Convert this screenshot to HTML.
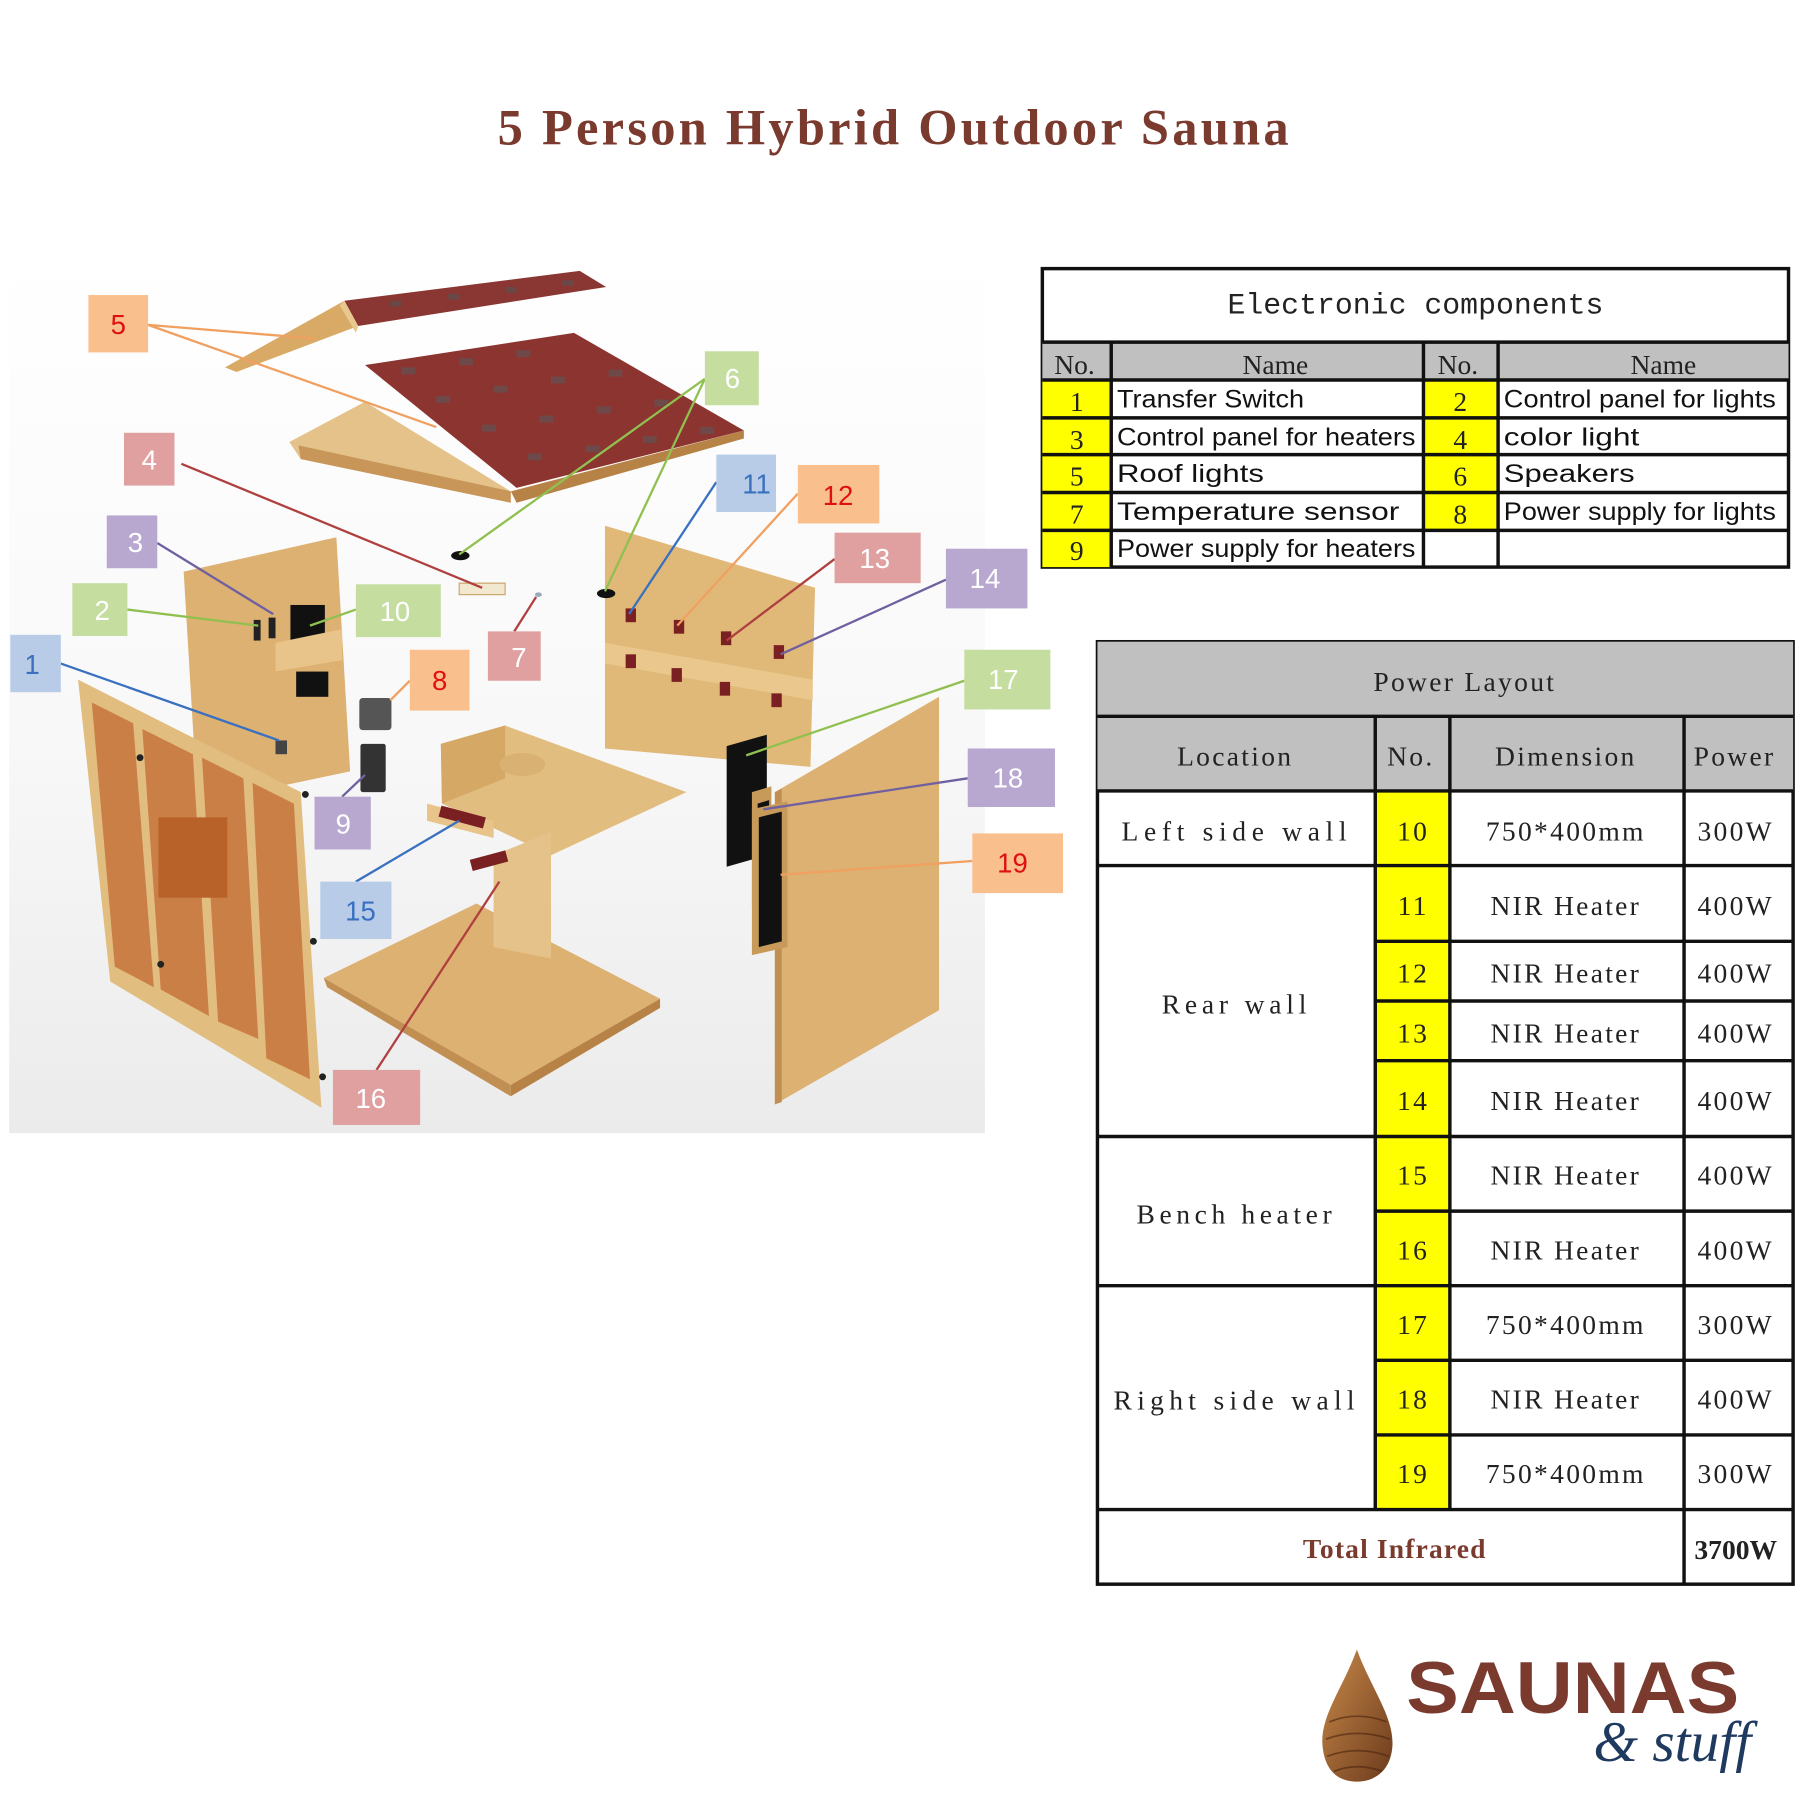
<!DOCTYPE html>
<html><head><meta charset="utf-8"><style>html,body{margin:0;padding:0;background:#fff}svg{display:block}</style></head>
<body>
<svg xmlns="http://www.w3.org/2000/svg" width="1800" height="1800" viewBox="0 0 1568 1568">
<defs>
<linearGradient id="bg" x1="0" y1="0" x2="0" y2="1"><stop offset="0" stop-color="#ffffff"/><stop offset="0.55" stop-color="#f8f8f8"/><stop offset="1" stop-color="#ebebeb"/></linearGradient>
<linearGradient id="drop" x1="0" y1="0" x2="1" y2="1"><stop offset="0" stop-color="#c98a4a"/><stop offset="1" stop-color="#6b3a1c"/></linearGradient>
</defs>
<rect width="1568" height="1568" fill="#fff"/>
<text x="778" y="126" text-anchor="middle" font-family="Liberation Serif, serif" font-size="44" font-weight="bold" fill="#7a3a2e" textLength="689" lengthAdjust="spacing">5 Person Hybrid Outdoor Sauna</text>

<rect x="8" y="225" width="850" height="762" fill="url(#bg)"/>

<!-- roof small -->
<polygon points="300,262 505,236 528,250 312,284" fill="#8a3632"/>
<polygon points="196,320 300,262 312,284 206,324" fill="#d9aa66"/>
<polygon points="300,262 312,284 310,290 296,266" fill="#e8c88e"/>
<g fill="#555" opacity="0.6"><rect x="340" y="262" width="10" height="5"/><rect x="390" y="256" width="10" height="5"/><rect x="440" y="250" width="10" height="5"/><rect x="490" y="244" width="10" height="5"/></g>
<!-- roof big -->
<polygon points="252,385 318,350 445,428 262,400" fill="#e4c28a"/>
<polygon points="318,318 500,290 648,375 450,425" fill="#8c3430"/>
<polygon points="260,388 262,400 445,438 445,428" fill="#c89658"/>
<polygon points="445,428 648,375 648,382 450,438" fill="#b78246"/>
<g fill="#5a5a5a" opacity="0.6">
<rect x="350" y="320" width="12" height="6"/><rect x="400" y="312" width="12" height="6"/><rect x="450" y="305" width="12" height="6"/>
<rect x="380" y="345" width="12" height="6"/><rect x="430" y="336" width="12" height="6"/><rect x="480" y="328" width="12" height="6"/><rect x="530" y="322" width="12" height="6"/>
<rect x="420" y="370" width="12" height="6"/><rect x="470" y="362" width="12" height="6"/><rect x="520" y="354" width="12" height="6"/><rect x="570" y="348" width="12" height="6"/>
<rect x="460" y="395" width="12" height="6"/><rect x="510" y="388" width="12" height="6"/><rect x="560" y="380" width="12" height="6"/><rect x="610" y="372" width="12" height="6"/>
</g>

<!-- left side wall -->
<polygon points="160,498 293,468 305,672 172,700" fill="#dcb172"/>
<rect x="253" y="527" width="30" height="32" fill="#111"/>
<rect x="258" y="585" width="28" height="22" fill="#111"/>
<polygon points="240,560 298,548 298,575 240,585" fill="#e8c48a"/>
<rect x="221" y="540" width="6" height="18" fill="#222"/><rect x="234" y="538" width="6" height="18" fill="#222"/>
<rect x="240" y="645" width="10" height="12" fill="#444"/>

<!-- rear wall -->
<polygon points="527,458 710,512 706,668 527,652" fill="#e0b877"/>
<polygon points="527,560 708,592 708,610 527,578" fill="#eac78d"/>
<g fill="#7a1f22">
<rect x="545" y="530" width="9" height="12"/><rect x="587" y="540" width="9" height="12"/><rect x="628" y="550" width="9" height="12"/><rect x="674" y="562" width="9" height="12"/>
<rect x="545" y="570" width="9" height="12"/><rect x="585" y="582" width="9" height="12"/><rect x="627" y="594" width="9" height="12"/><rect x="672" y="604" width="9" height="12"/>
</g>
<polygon points="633,650 668,640 668,745 633,755" fill="#111"/>
<polygon points="655,690 672,685 672,785 655,790" fill="#c89a5a"/>
<polygon points="660,700 670,697 670,780 660,783" fill="#111"/>

<rect x="313" y="608" width="28" height="28" rx="3" fill="#555"/>
<rect x="314" y="648" width="22" height="42" rx="2" fill="#333"/>
<ellipse cx="401" cy="484" rx="8" ry="4" fill="#111"/>
<ellipse cx="528" cy="517" rx="8" ry="4" fill="#111"/>
<rect x="400" y="508" width="40" height="10" fill="#f2e7cf" stroke="#c9a46a"/>
<ellipse cx="469" cy="518" rx="3" ry="2" fill="#9ab"/>

<!-- floor -->
<polygon points="282,852 415,787 575,870 445,945" fill="#dcb172"/>
<polygon points="282,852 445,945 445,955 285,860" fill="#c28f52"/>
<polygon points="445,945 575,870 575,878 445,955" fill="#b78246"/>

<!-- bench -->
<polygon points="384,648 440,632 598,690 480,745 385,700" fill="#e2bd80"/>
<polygon points="384,648 440,632 440,678 385,700" fill="#d6a866"/>
<polygon points="430,745 480,725 480,835 430,825" fill="#e4c28a"/>
<ellipse cx="455" cy="666" rx="20" ry="10" fill="#d9b273"/>
<polygon points="372,700 430,715 430,730 372,715" fill="#e8c48a"/>
<rect x="383" y="706" width="40" height="10" fill="#7a1f22" transform="rotate(15 400 710)"/>
<rect x="410" y="745" width="32" height="10" fill="#7a1f22" transform="rotate(-15 425 750)"/>

<!-- right wall -->
<polygon points="675,690 818,607 818,880 675,962" fill="#dcb172"/>
<polygon points="675,690 681,687 681,960 675,962" fill="#c28f52"/>
<polygon points="655,705 686,698 686,825 655,832" fill="#c89a5a"/>
<polygon points="661,712 681,707 681,820 661,825" fill="#111"/>

<!-- front door wall -->
<polygon points="68,592 262,690 280,965 96,855" fill="#e2bd80"/>
<polygon points="80,612 116,630 134,860 100,842" fill="#c97f45"/>
<polygon points="124,635 168,657 182,885 140,862" fill="#c97f45"/>
<polygon points="176,660 212,678 225,905 190,890" fill="#c97f45"/>
<polygon points="220,682 256,700 270,940 232,922" fill="#c97f45"/>
<rect x="138" y="712" width="60" height="70" fill="#b8622a"/>
<g fill="#222"><circle cx="122" cy="660" r="3"/><circle cx="140" cy="840" r="3"/><circle cx="266" cy="692" r="3"/><circle cx="273" cy="820" r="3"/><circle cx="281" cy="938" r="3"/></g>

<g stroke-width="2" fill="none">
<path d="M129,283 L275,295 M129,283 L380,372" stroke="#f0a060"/>
<path d="M614,330 L400,483 M614,330 L527,515" stroke="#90c050"/>
<path d="M158,404 L420,512" stroke="#b04040"/>
<path d="M624,420 L548,535" stroke="#3a70c0"/>
<path d="M695,430 L590,545" stroke="#f0a060"/>
<path d="M137,473 L238,535" stroke="#7060a0"/>
<path d="M727,487 L633,558" stroke="#b04040"/>
<path d="M824,505 L680,570" stroke="#7060a0"/>
<path d="M111,531 L225,545" stroke="#90c050"/>
<path d="M310,531 L270,545" stroke="#90c050"/>
<path d="M53,578 L243,645" stroke="#3a70c0"/>
<path d="M448,550 L467,520" stroke="#b04040"/>
<path d="M357,593 L340,610" stroke="#f0a060"/>
<path d="M840,593 L650,658" stroke="#90c050"/>
<path d="M843,678 L665,705" stroke="#7060a0"/>
<path d="M298,694 L318,675" stroke="#7060a0"/>
<path d="M847,750 L680,762" stroke="#f0a060"/>
<path d="M310,768 L400,715" stroke="#3a70c0"/>
<path d="M328,932 L435,768" stroke="#b04040"/>
</g>

<g font-family="Liberation Sans, sans-serif" font-size="24" text-anchor="middle">
<rect x="77" y="257" width="52" height="50" fill="#f9c08e"/><text x="103" y="291" fill="#e01010">5</text>
<rect x="614" y="306" width="47" height="47" fill="#c5dea0"/><text x="638" y="338" fill="#fff">6</text>
<rect x="108" y="377" width="44" height="46" fill="#e0a0a0"/><text x="130" y="409" fill="#fff">4</text>
<rect x="624" y="396" width="52" height="50" fill="#b8cce8"/><text x="659" y="430" fill="#3a70c0">11</text>
<rect x="695" y="405" width="71" height="51" fill="#f9c08e"/><text x="730" y="440" fill="#e01010">12</text>
<rect x="93" y="449" width="44" height="46" fill="#b8a8d0"/><text x="118" y="481" fill="#fff">3</text>
<rect x="727" y="464" width="75" height="44" fill="#e0a0a0"/><text x="762" y="495" fill="#fff">13</text>
<rect x="824" y="478" width="71" height="52" fill="#b8a8d0"/><text x="858" y="512" fill="#fff">14</text>
<rect x="63" y="508" width="48" height="46" fill="#c5dea0"/><text x="89" y="540" fill="#fff">2</text>
<rect x="310" y="509" width="74" height="46" fill="#c5dea0"/><text x="344" y="541" fill="#fff">10</text>
<rect x="9" y="553" width="44" height="50" fill="#b8cce8"/><text x="28" y="587" fill="#3a70c0">1</text>
<rect x="425" y="550" width="46" height="43" fill="#e0a0a0"/><text x="452" y="581" fill="#fff">7</text>
<rect x="357" y="566" width="52" height="53" fill="#f9c08e"/><text x="383" y="601" fill="#e01010">8</text>
<rect x="840" y="566" width="75" height="52" fill="#c5dea0"/><text x="874" y="600" fill="#fff">17</text>
<rect x="843" y="652" width="76" height="51" fill="#b8a8d0"/><text x="878" y="686" fill="#fff">18</text>
<rect x="274" y="694" width="49" height="46" fill="#b8a8d0"/><text x="299" y="726" fill="#fff">9</text>
<rect x="847" y="726" width="79" height="52" fill="#f9c08e"/><text x="882" y="760" fill="#e01010">19</text>
<rect x="279" y="768" width="62" height="50" fill="#b8cce8"/><text x="314" y="802" fill="#3a70c0">15</text>
<rect x="290" y="932" width="76" height="48" fill="#e0a0a0"/><text x="323" y="965" fill="#fff">16</text>
</g>

<g>
<rect x="908" y="234" width="650" height="260" fill="#fff" stroke="#111" stroke-width="3"/>
<rect x="908" y="298" width="650" height="33" fill="#c0c0c0"/>
<g fill="#ffff00">
<rect x="908" y="331" width="60" height="163"/><rect x="1240" y="331" width="65" height="131"/>
</g>
<g stroke="#111" stroke-width="3">
<line x1="908" y1="298" x2="1558" y2="298"/><line x1="908" y1="331" x2="1558" y2="331"/>
<line x1="908" y1="364" x2="1558" y2="364"/><line x1="908" y1="396" x2="1558" y2="396"/>
<line x1="908" y1="429" x2="1558" y2="429"/><line x1="908" y1="462" x2="1558" y2="462"/>
<line x1="968" y1="298" x2="968" y2="494"/><line x1="1240" y1="298" x2="1240" y2="494"/><line x1="1305" y1="298" x2="1305" y2="494"/>
</g>
<text x="1233" y="273" text-anchor="middle" font-family="Liberation Mono, monospace" font-size="26" fill="#222">Electronic components</text>
<g font-family="Liberation Serif, serif" font-size="24" fill="#222" text-anchor="middle">
<text x="936" y="326">No.</text><text x="1111" y="326">Name</text><text x="1270" y="326">No.</text><text x="1449" y="326">Name</text>
<text x="938" y="358">1</text><text x="1272" y="358">2</text>
<text x="938" y="391">3</text><text x="1272" y="391">4</text>
<text x="938" y="423">5</text><text x="1272" y="423">6</text>
<text x="938" y="456">7</text><text x="1272" y="456">8</text>
<text x="938" y="488">9</text>
</g>
<g font-family="Liberation Sans Narrow, Liberation Sans, sans-serif" font-size="22" fill="#111">
<text x="973" y="355" textLength="163" lengthAdjust="spacingAndGlyphs">Transfer Switch</text>
<text x="1310" y="355" textLength="237" lengthAdjust="spacingAndGlyphs">Control panel for lights</text>
<text x="973" y="388" textLength="260" lengthAdjust="spacingAndGlyphs">Control panel for heaters</text>
<text x="1310" y="388" textLength="118" lengthAdjust="spacingAndGlyphs">color light</text>
<text x="973" y="420" textLength="128" lengthAdjust="spacingAndGlyphs">Roof lights</text>
<text x="1310" y="420" textLength="114" lengthAdjust="spacingAndGlyphs">Speakers</text>
<text x="973" y="453" textLength="246" lengthAdjust="spacingAndGlyphs">Temperature sensor</text>
<text x="1310" y="453" textLength="237" lengthAdjust="spacingAndGlyphs">Power supply for lights</text>
<text x="973" y="485" textLength="260" lengthAdjust="spacingAndGlyphs">Power supply for heaters</text>
</g>
</g>

<g>
<rect x="956" y="559" width="606" height="821" fill="#fff" stroke="#111" stroke-width="3"/>
<rect x="956" y="559" width="606" height="130" fill="#c0c0c0"/>
<rect x="1198" y="689" width="65" height="626" fill="#ffff00"/>
<g stroke="#111" stroke-width="3">
<line x1="956" y1="624" x2="1562" y2="624"/><line x1="956" y1="689" x2="1562" y2="689"/>
<line x1="956" y1="754" x2="1562" y2="754"/>
<line x1="1198" y1="820" x2="1562" y2="820"/><line x1="1198" y1="872" x2="1562" y2="872"/><line x1="1198" y1="924" x2="1562" y2="924"/>
<line x1="956" y1="990" x2="1562" y2="990"/><line x1="1198" y1="1055" x2="1562" y2="1055"/>
<line x1="956" y1="1120" x2="1562" y2="1120"/><line x1="1198" y1="1185" x2="1562" y2="1185"/><line x1="1198" y1="1250" x2="1562" y2="1250"/>
<line x1="956" y1="1315" x2="1562" y2="1315"/>
<line x1="1198" y1="624" x2="1198" y2="1315"/><line x1="1263" y1="624" x2="1263" y2="1315"/><line x1="1467" y1="624" x2="1467" y2="1380"/>
</g>
<g font-family="Liberation Serif, serif" font-size="24" fill="#222" text-anchor="middle" letter-spacing="2">
<text x="1276" y="602">Power Layout</text>
<text x="1076" y="667">Location</text><text x="1229" y="667">No.</text><text x="1364" y="667">Dimension</text><text x="1511" y="667">Power</text>
<text x="1076" y="732" textLength="198" lengthAdjust="spacing">Left side wall</text>
<text x="1076" y="883" textLength="128" lengthAdjust="spacing">Rear wall</text>
<text x="1076" y="1066" textLength="172" lengthAdjust="spacing">Bench heater</text>
<text x="1076" y="1228" textLength="212" lengthAdjust="spacing">Right side wall</text>
<text x="1231" y="732">10</text><text x="1364" y="732">750*400mm</text><text x="1512" y="732">300W</text>
<text x="1231" y="797">11</text><text x="1364" y="797">NIR Heater</text><text x="1512" y="797">400W</text>
<text x="1231" y="856">12</text><text x="1364" y="856">NIR Heater</text><text x="1512" y="856">400W</text>
<text x="1231" y="908">13</text><text x="1364" y="908">NIR Heater</text><text x="1512" y="908">400W</text>
<text x="1231" y="967">14</text><text x="1364" y="967">NIR Heater</text><text x="1512" y="967">400W</text>
<text x="1231" y="1032">15</text><text x="1364" y="1032">NIR Heater</text><text x="1512" y="1032">400W</text>
<text x="1231" y="1097">16</text><text x="1364" y="1097">NIR Heater</text><text x="1512" y="1097">400W</text>
<text x="1231" y="1162">17</text><text x="1364" y="1162">750*400mm</text><text x="1512" y="1162">300W</text>
<text x="1231" y="1227">18</text><text x="1364" y="1227">NIR Heater</text><text x="1512" y="1227">400W</text>
<text x="1231" y="1292">19</text><text x="1364" y="1292">750*400mm</text><text x="1512" y="1292">300W</text>
<text x="1215" y="1357" fill="#7a3a2e" font-weight="bold" letter-spacing="1">Total Infrared</text>
<text x="1512" y="1358" font-weight="bold" letter-spacing="0">3700W</text>
</g>
</g>

<path d="M1182,1437 C1170,1470 1150,1495 1152,1520 C1154,1545 1168,1552 1182,1552 C1198,1552 1212,1542 1213,1520 C1214,1495 1194,1470 1182,1437 Z" fill="url(#drop)"/>
<g stroke="#4a2410" stroke-width="1.5" fill="none" opacity="0.6">
<path d="M1158,1500 Q1182,1490 1208,1500"/><path d="M1155,1515 Q1182,1505 1211,1515"/><path d="M1156,1530 Q1182,1520 1210,1530"/><path d="M1162,1543 Q1182,1535 1204,1543"/>
</g>
<text x="1225" y="1492" font-family="Liberation Sans, sans-serif" font-size="64" font-weight="bold" fill="#7a3a2e" textLength="290" lengthAdjust="spacingAndGlyphs">SAUNAS</text>
<text x="1388" y="1534" font-family="Liberation Serif, serif" font-size="50" font-style="italic" fill="#1f3a5f">&amp; stuff</text>
</svg>
</body></html>
